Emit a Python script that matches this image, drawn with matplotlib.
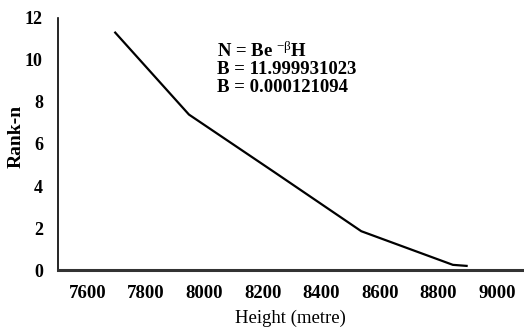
import matplotlib
matplotlib.use("Agg")
import matplotlib.pyplot as plt

# values
heights = [7695, 7947, 8240, 8536, 8849, 8896]
ranks = [11.3, 7.4, 4.65, 1.85, 0.25, 0.2]
x_ticks = [7600, 7800, 8000, 8200, 8400, 8600, 8800, 9000]
y_ticks = [0, 2, 4, 6, 8, 10, 12]
eq_lines = ["N = Be $^{-\u03b2}$H", "B = 11.999931023", "B = 0.000121094"]

plt.rcParams['font.family'] = ['Liberation Serif', 'DejaVu Serif']
plt.rcParams['mathtext.fontset'] = 'custom'
plt.rcParams['mathtext.rm'] = 'Liberation Serif'
plt.rcParams['mathtext.it'] = 'Liberation Serif'

fig = plt.figure(figsize=(5.24, 3.31), dpi=100)
ax = fig.add_axes([0.111, 0.184, 0.885, 0.762])

ax.plot(heights, ranks, color='black', linewidth=1.6)

ax.set_xlim(7500, 9085)
ax.set_ylim(0, 12)
ax.set_xticks(x_ticks)
ax.set_yticks(y_ticks)
ax.tick_params(axis='x', length=0, labelsize=13.5, pad=11)
ax.tick_params(axis='y', length=0, labelsize=13, pad=11)
for lab in ax.get_xticklabels() + ax.get_yticklabels():
    lab.set_fontweight('bold')

ax.spines['top'].set_visible(False)
ax.spines['right'].set_visible(False)
ax.spines['left'].set_linewidth(1.2)
ax.spines['bottom'].set_linewidth(2.2)
ax.spines['bottom'].set_color('#333333')

ax.set_xlabel("Height (metre)", fontsize=13.5, labelpad=5)
ax.set_ylabel("Rank-n", fontsize=14, fontweight='bold')
ax.yaxis.set_label_coords(-0.072, 0.53)

for i, line in enumerate(eq_lines):
    ax.text(8043, 10.4 - i * 0.86, line, fontsize=13.5, fontweight='bold',
            va='center', ha='left')

fig.savefig("out.png", dpi=100)
